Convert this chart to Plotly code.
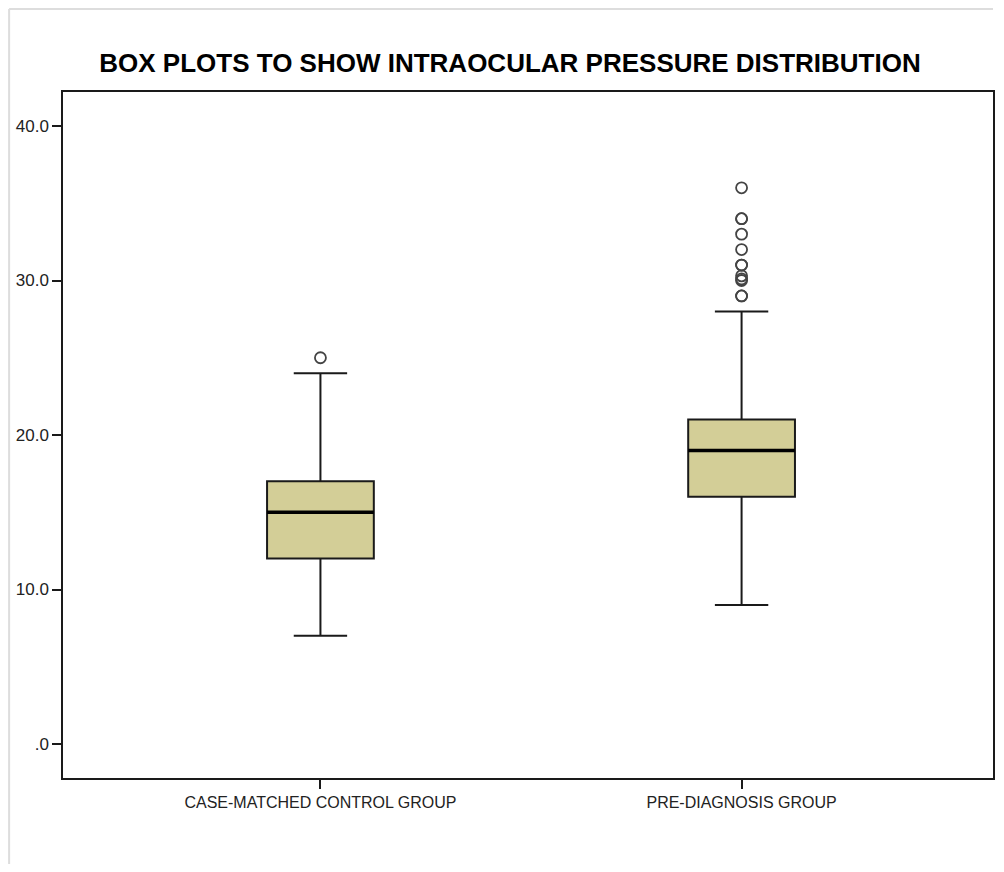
import plotly.graph_objects as go

# ---- data ----
categories = ["CASE-MATCHED CONTROL GROUP", "PRE-DIAGNOSIS GROUP"]
q1 = [12, 16]
median = [15, 19]
q3 = [17, 21]
lower_whisker = [7, 9]
upper_whisker = [24, 28]
outliers = [
    [25],
    [29, 29, 30, 30.1, 30.3, 31, 31, 32, 33, 34, 34, 36],
]
y_ticks = [0, 10, 20, 30, 40]
y_tick_labels = [".0", "10.0", "20.0", "30.0", "40.0"]

BOX_W = 0.2535
FILL = "#D3CE97"
OFF = 8  # page body margin
FONT = "Liberation Sans, Arial"

fig = go.Figure()
xpos = list(range(len(categories)))

fig.add_trace(go.Box(
    x=xpos, q1=q1, median=median, q3=q3,
    lowerfence=lower_whisker, upperfence=upper_whisker,
    width=BOX_W, whiskerwidth=0.5,
    fillcolor=FILL,
    line=dict(color="#1a1a1a", width=2),
    boxpoints=False, showlegend=False, hoverinfo="skip",
))

# thick median lines
for i, m in enumerate(median):
    fig.add_trace(go.Scatter(
        x=[xpos[i] - BOX_W / 2, xpos[i] + BOX_W / 2], y=[m, m],
        mode="lines", line=dict(color="black", width=3.5),
        showlegend=False, hoverinfo="skip",
    ))

# outliers
for i, pts in enumerate(outliers):
    fig.add_trace(go.Scatter(
        x=[xpos[i]] * len(pts), y=pts, mode="markers",
        marker=dict(symbol="circle-open", size=11, color="#444444",
                    line=dict(width=1.8, color="#444444")),
        showlegend=False, hoverinfo="skip",
    ))

W = 1004 - 2 * OFF
H = 872 - 2 * OFF
L, R, T, B = 63 - OFF, 1, 92 - OFF, OFF + H - 778
PW, PH = W - L - R, H - T - B


def px_x(p):
    return (p - OFF - L) / PW


def px_y(p):
    return (OFF + H - B - p) / PH


fig.update_layout(
    width=W, height=H,
    margin=dict(l=L, r=R, t=T, b=B),
    paper_bgcolor="white", plot_bgcolor="white",
    title=dict(text="<b>BOX PLOTS TO SHOW INTRAOCULAR PRESSURE DISTRIBUTION</b>",
               x=(510 - OFF) / W, xanchor="center", y=1 - (63 - OFF) / H, yanchor="middle",
               font=dict(family=FONT, size=26, color="black")),
    xaxis=dict(range=[-0.6113, 1.597], tickvals=xpos, ticktext=categories,
               showgrid=False, zeroline=False, showline=True, mirror=True,
               linecolor="#1a1a1a", linewidth=1.5, ticks="outside", ticklen=9,
               tickwidth=1.5, tickcolor="#1a1a1a",
               tickfont=dict(family=FONT, size=16, color="#222")),
    yaxis=dict(range=[-2.2, 42.2], tickvals=y_ticks, ticktext=y_tick_labels,
               showgrid=False, zeroline=False, showline=True, mirror=True,
               linecolor="#1a1a1a", linewidth=1.5, ticks="outside", ticklen=9,
               tickwidth=1.5, tickcolor="#1a1a1a",
               tickfont=dict(family=FONT, size=17, color="#222")),
    shapes=[
        dict(type="line", xref="paper", yref="paper",
             x0=px_x(9), x1=px_x(995), y0=px_y(9), y1=px_y(9),
             line=dict(color="#dddddd", width=2), layer="below"),
        dict(type="line", xref="paper", yref="paper",
             x0=px_x(9), x1=px_x(9), y0=px_y(9), y1=px_y(OFF + H),
             line=dict(color="#dddddd", width=2), layer="below"),
    ],
)

fig.write_html("out.html")
